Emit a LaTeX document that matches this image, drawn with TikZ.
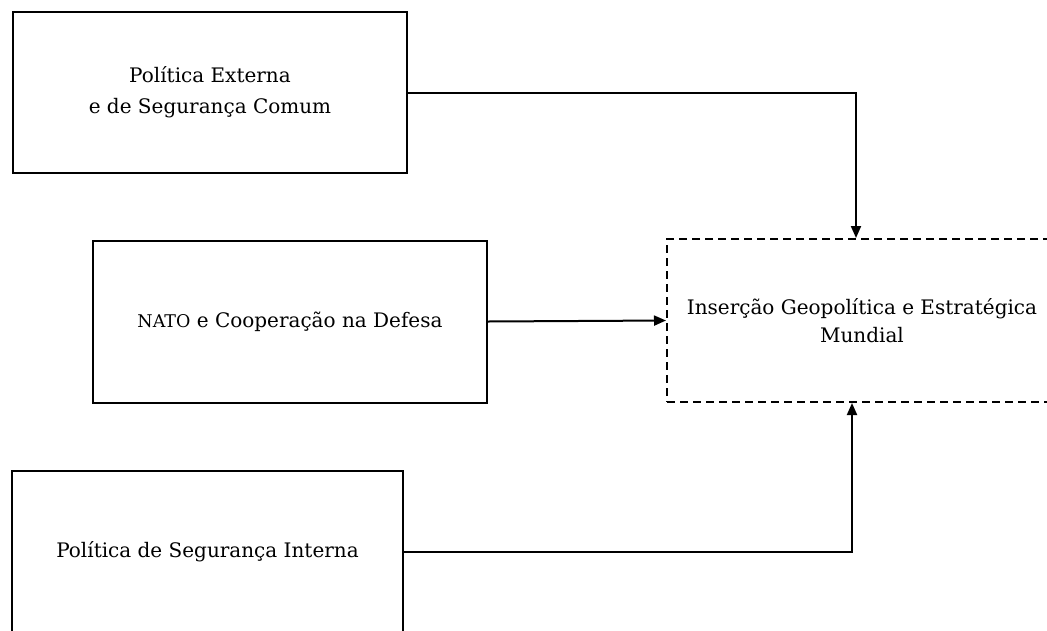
\documentclass[tikz,border=0pt]{standalone}
\usepackage{fontspec}
\setmainfont{DejaVu Serif}
\usetikzlibrary{arrows.meta}
\begin{document}
\begin{tikzpicture}[x=1pt,y=-1pt,
  box/.style={draw, line width=2pt, inner sep=0pt, align=center},
  dbox/.style={box, dash pattern=on 8pt off 5pt},
  conn/.style={line width=2pt, -{Triangle[length=12pt,width=10pt]}},
  lbl/.style={font=\fontsize{20}{31}\selectfont}]
\useasboundingbox (0,0) rectangle (1047,630);
\clip (0,0) rectangle (1047,630);
\node[box, lbl, minimum width=394pt, minimum height=161pt] (pesc) at (210,92.5)
  {Política Externa\\e de Segurança Comum};
\node[box, lbl, minimum width=394pt, minimum height=162pt] (nato) at (290,321.5)
  {{\fontsize{17.5}{31}\selectfont NATO} e Cooperação na Defesa};
\node[box, lbl, minimum width=391pt, minimum height=162pt] (psi) at (207.5,552)
  {Política de Segurança Interna};
\node[dbox, font=\fontsize{20}{28}\selectfont, minimum width=390pt, minimum height=163pt] (ins) at (862,320.5)
  {Inserção Geopolítica e Estratégica\\Mundial};
\draw[conn] (pesc.east) -| ([xshift=-6pt]ins.north);
\draw[conn] (nato.east) -- (ins.west);
\draw[conn] (psi.east) -| ([xshift=-10pt]ins.south);
\end{tikzpicture}
\end{document}
